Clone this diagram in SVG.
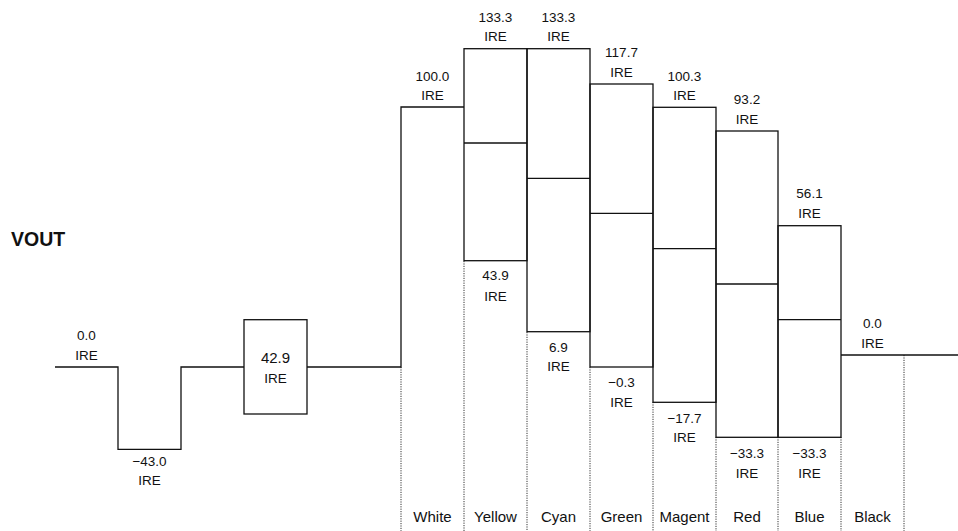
<svg xmlns="http://www.w3.org/2000/svg" width="958" height="531" viewBox="0 0 958 531">
<style>
.w{fill:none;stroke:#111;stroke-width:1.3}
.d{fill:none;stroke:#333;stroke-width:1;stroke-dasharray:1.2,1.2}
text{font-family:"Liberation Sans",Arial,sans-serif;font-size:13.5px;fill:#111;text-anchor:middle}
.c{font-size:15px}
.v{font-size:19.5px;font-weight:bold;text-anchor:start}
</style>
<rect width="958" height="531" fill="#fff"/>
<text class="v" x="11" y="245.5">VOUT</text>
<g id="connectors">
<path class="d" d="M401,367V531M464,261V531M527,332V531M590,367V531M653,402V531M716,437V531M778,437V531M841,437V531M904,355V531"/>
</g>
<g id="sync">
<path class="w" d="M55,367H118V449.3H181V367H244"/>
<text x="86.5" y="340">0.0</text><text x="86.5" y="360">IRE</text>
<text x="149.5" y="466">−43.0</text><text x="149.5" y="485">IRE</text>
</g>
<g id="burst">
<rect class="w" x="244" y="319.7" width="63" height="94.3"/>
<text class="c" x="275.5" y="362.7">42.9</text><text x="275.5" y="383.3">IRE</text>
</g>
<g id="white">
<path class="w" d="M307,367H401V107H464"/>
<text x="432.5" y="81">100.0</text><text x="432.5" y="100">IRE</text>
<text class="c" x="432.5" y="521.5">White</text>
</g>
<g id="yellow">
<rect class="w" x="464" y="48.7" width="63" height="212"/>
<path class="w" d="M464,143H527"/>
<text x="495.5" y="21.5">133.3</text><text x="495.5" y="41">IRE</text>
<text x="495.5" y="280">43.9</text><text x="495.5" y="300.5">IRE</text>
<text class="c" x="495.5" y="521.5">Yellow</text>
</g>
<g id="cyan">
<rect class="w" x="527" y="48.7" width="63" height="283"/>
<path class="w" d="M527,178.3H590"/>
<text x="558.5" y="21.5">133.3</text><text x="558.5" y="41">IRE</text>
<text x="558.5" y="351.5">6.9</text><text x="558.5" y="370.5">IRE</text>
<text class="c" x="558.5" y="521.5">Cyan</text>
</g>
<g id="green">
<rect class="w" x="590" y="84" width="63" height="283"/>
<path class="w" d="M590,213.3H653"/>
<text x="621.5" y="57">117.7</text><text x="621.5" y="77">IRE</text>
<text x="621.5" y="387.3">−0.3</text><text x="621.5" y="406.7">IRE</text>
<text class="c" x="621.5" y="521.5">Green</text>
</g>
<g id="magenta">
<rect class="w" x="653" y="107.3" width="63" height="295"/>
<path class="w" d="M653,248.7H716"/>
<text x="684.5" y="81">100.3</text><text x="684.5" y="100">IRE</text>
<text x="684.5" y="423.3">−17.7</text><text x="684.5" y="441.7">IRE</text>
<text class="c" x="684.5" y="521.5">Magent</text>
</g>
<g id="red">
<rect class="w" x="716" y="131" width="62" height="306.3"/>
<path class="w" d="M716,284H778"/>
<text x="747" y="104">93.2</text><text x="747" y="124">IRE</text>
<text x="747" y="458.3">−33.3</text><text x="747" y="477.7">IRE</text>
<text class="c" x="747" y="521.5">Red</text>
</g>
<g id="blue">
<rect class="w" x="778" y="225.7" width="63" height="211.6"/>
<path class="w" d="M778,319.7H841"/>
<text x="809.5" y="198">56.1</text><text x="809.5" y="218.3">IRE</text>
<text x="809.5" y="458.3">−33.3</text><text x="809.5" y="477.7">IRE</text>
<text class="c" x="809.5" y="521.5">Blue</text>
</g>
<g id="black">
<path class="w" d="M841,355H958"/>
<text x="872.5" y="328.3">0.0</text><text x="872.5" y="347.7">IRE</text>
<text class="c" x="872.5" y="521.5">Black</text>
</g>
</svg>
